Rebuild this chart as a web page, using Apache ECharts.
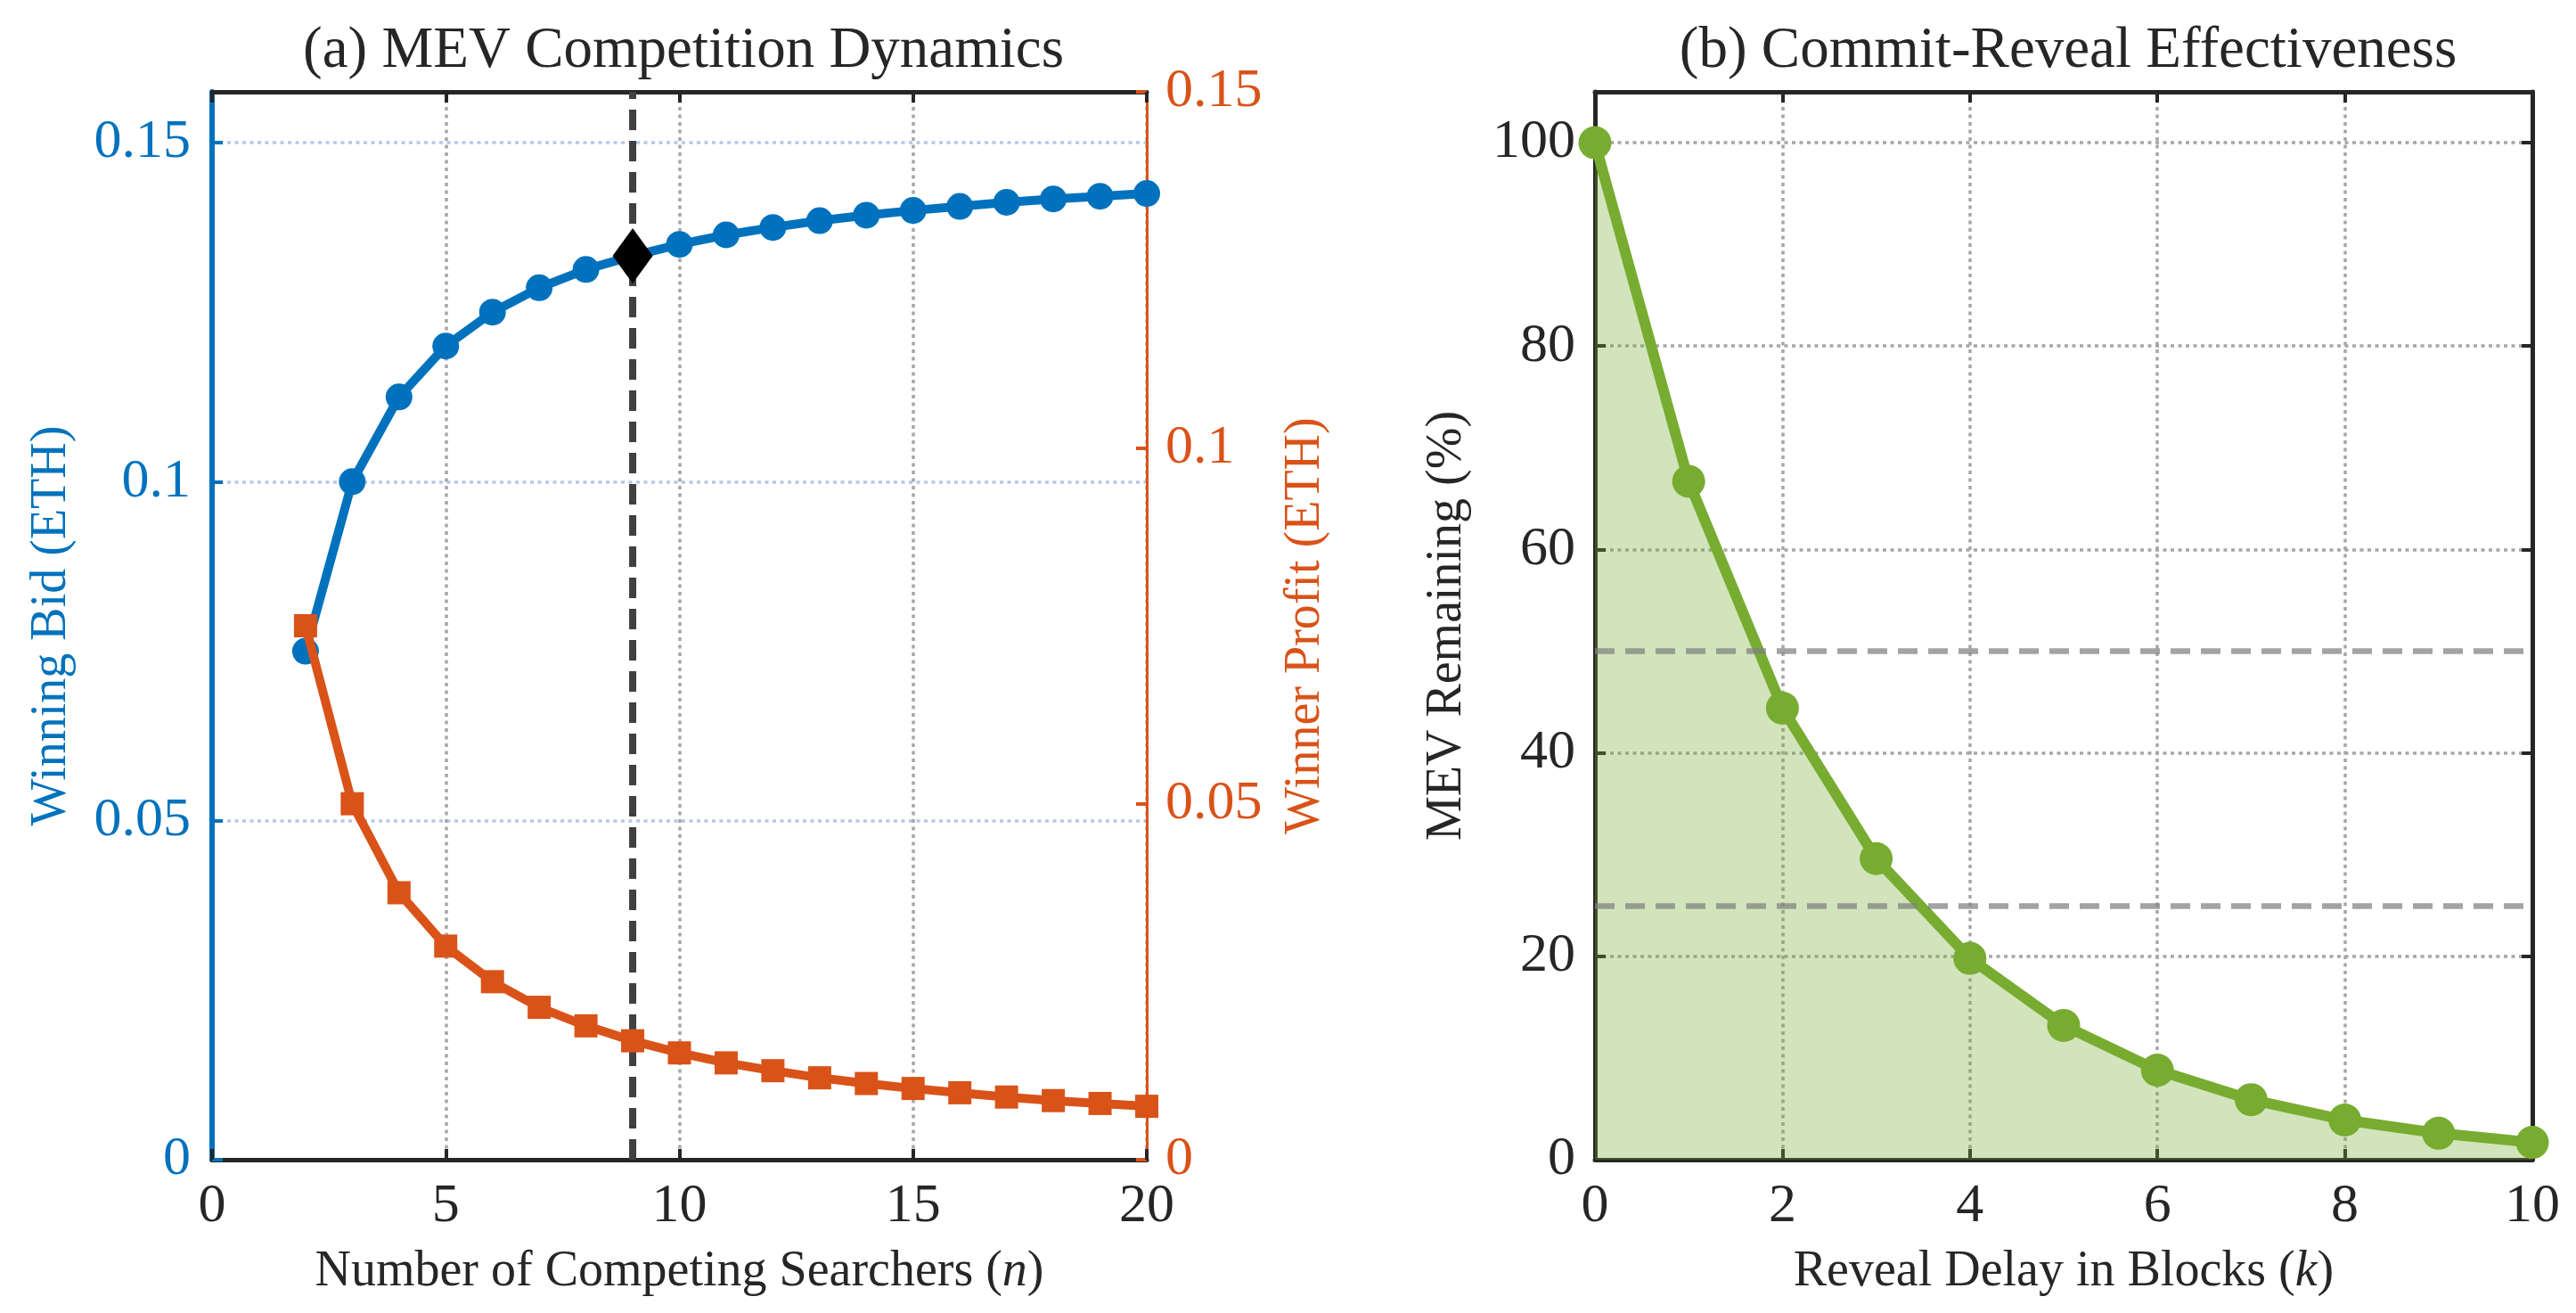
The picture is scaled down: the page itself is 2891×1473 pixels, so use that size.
<!DOCTYPE html>
<html>
<head>
<meta charset="utf-8">
<script src="https://cdn.jsdelivr.net/npm/echarts@6.0.0/dist/echarts.min.js"></script>
<style>
  html, body { margin: 0; padding: 0; background: #fff; }
  #chart { width: 2891px; height: 1473px; }
</style>
</head>
<body>
<div id="chart"></div>
<script>
// (a) auction: searchers vs winning bid / winner profit
var searchers = [2, 3, 4, 5, 6, 7, 8, 9, 10, 11, 12, 13, 14, 15, 16, 17, 18, 19, 20];
var winningBid = [0.075, 0.1, 0.1125, 0.12, 0.125, 0.1286, 0.1313, 0.1333, 0.135, 0.1364,
  0.1375, 0.1385, 0.1393, 0.14, 0.1406, 0.1412, 0.1417, 0.1421, 0.1425];
var winnerProfit = [0.075, 0.05, 0.0375, 0.03, 0.025, 0.0214, 0.0188, 0.0167, 0.015, 0.0136,
  0.0125, 0.0115, 0.0107, 0.01, 0.0094, 0.0088, 0.0083, 0.0079, 0.0075];
var optimalN = 9;
var optimalBid = 0.1333;

// (b) commit-reveal: delay vs remaining MEV
var delays = [0, 1, 2, 3, 4, 5, 6, 7, 8, 9, 10];
var mevRemaining = [100, 66.7, 44.4, 29.6, 19.8, 13.2, 8.8, 5.9, 3.9, 2.6, 1.7];
var thresholds = [50, 25];

var BLUE = '#0072BD', ORANGE = '#D95319', GREEN = '#77AC30';
var INK = '#262626', GRID_GRAY = '#a6a6a6', GRID_BLUE = '#b6c8e6';
var FONT = 'Liberation Serif';

function pairs(xs, ys) {
  return xs.map(function (x, i) { return [x, ys[i]]; });
}

function axisLine(color, width) {
  return { show: true, onZero: false, lineStyle: { color: color, width: width } };
}
function tickStyle(color) {
  return { show: true, inside: true, length: 12, lineStyle: { color: color, width: 4 } };
}
function labelStyle(color, margin) {
  return { color: color, fontFamily: FONT, fontSize: 62, margin: margin };
}
function nameStyle(color) {
  return {
    color: color, fontFamily: FONT, fontSize: 56,
    rich: { i: { fontFamily: FONT, fontSize: 56, fontStyle: 'italic', color: color } }
  };
}
var dotted = function (color) {
  return { show: true, lineStyle: { color: color, width: 3.5, type: [4, 4.5] } };
};

var chart = echarts.init(document.getElementById('chart'), null, { renderer: 'canvas' });

var option = {
  animation: false,
  backgroundColor: '#fff',
  title: [
    { text: '(a) MEV Competition Dynamics', left: 762, top: 20, textAlign: 'center',
      textStyle: { fontFamily: FONT, fontSize: 65, fontWeight: 'normal', color: INK } },
    { text: '(b) Commit-Reveal Effectiveness', left: 2316, top: 20, textAlign: 'center',
      textStyle: { fontFamily: FONT, fontSize: 65, fontWeight: 'normal', color: INK } }
  ],
  grid: [
    { left: 238, top: 103, width: 1049, height: 1198, outerBoundsMode: 'none' },
    { left: 1790, top: 103, width: 1052, height: 1198, outerBoundsMode: 'none' }
  ],
  xAxis: [
    { type: 'value', gridIndex: 0, position: 'bottom', min: 0, max: 20, interval: 5,
      name: 'Number of Competing Searchers ({i|n})', nameLocation: 'middle', nameGap: 98,
      nameTextStyle: nameStyle(INK),
      axisLine: axisLine(INK, 5), axisTick: tickStyle(INK), axisLabel: labelStyle(INK, 22),
      splitLine: dotted(GRID_GRAY) },
    { type: 'value', gridIndex: 0, position: 'top', min: 0, max: 20, interval: 5,
      axisLine: axisLine(INK, 5), axisTick: tickStyle(INK),
      axisLabel: { show: false }, splitLine: { show: false } },
    { type: 'value', gridIndex: 1, position: 'bottom', min: 0, max: 10, interval: 2,
      name: 'Reveal Delay in Blocks ({i|k})', nameLocation: 'middle', nameGap: 98,
      nameTextStyle: nameStyle(INK),
      axisLine: axisLine(INK, 5), axisTick: tickStyle(INK), axisLabel: labelStyle(INK, 22),
      splitLine: dotted(GRID_GRAY) },
    { type: 'value', gridIndex: 1, position: 'top', min: 0, max: 10, interval: 2,
      axisLine: axisLine(INK, 5), axisTick: tickStyle(INK),
      axisLabel: { show: false }, splitLine: { show: false } }
  ],
  yAxis: [
    { type: 'value', gridIndex: 0, position: 'left', min: 0, max: 0.1575, interval: 0.05,
      name: 'Winning Bid (ETH)', nameLocation: 'middle', nameGap: 152,
      nameTextStyle: nameStyle(BLUE),
      axisLine: axisLine(BLUE, 6), axisTick: tickStyle(BLUE),
      axisLabel: Object.assign(labelStyle(BLUE, 24), { showMaxLabel: false }),
      splitLine: dotted(GRID_BLUE) },
    { type: 'value', gridIndex: 0, position: 'right', min: 0, max: 0.15, interval: 0.05,
      name: 'Winner Profit (ETH)', nameLocation: 'middle', nameGap: 150,
      nameTextStyle: nameStyle(ORANGE),
      axisLine: axisLine(ORANGE, 3), axisTick: tickStyle(ORANGE),
      axisLabel: labelStyle(ORANGE, 21),
      splitLine: { show: false } },
    { type: 'value', gridIndex: 1, position: 'left', min: 0, max: 105, interval: 20,
      name: 'MEV Remaining (%)', nameLocation: 'middle', nameGap: 138,
      nameTextStyle: nameStyle(INK),
      axisLine: axisLine(INK, 5), axisTick: tickStyle(INK),
      axisLabel: Object.assign(labelStyle(INK, 22), { showMaxLabel: false }),
      splitLine: dotted(GRID_GRAY) },
    { type: 'value', gridIndex: 1, position: 'right', min: 0, max: 105, interval: 20,
      axisLine: axisLine(INK, 5), axisTick: tickStyle(INK),
      axisLabel: { show: false }, splitLine: { show: false } }
  ],
  series: [
    // vertical marker at the optimal number of searchers
    { name: 'optimum line', type: 'line', xAxisIndex: 0, yAxisIndex: 0, z: 1,
      data: [[optimalN, 0], [optimalN, 0.1575]], symbol: 'none', silent: true,
      lineStyle: { color: '#404040', width: 8, type: [23, 12] } },
    { name: 'Winning Bid', type: 'line', xAxisIndex: 0, yAxisIndex: 0, z: 2,
      data: pairs(searchers, winningBid),
      symbol: 'circle', symbolSize: 30,
      lineStyle: { color: BLUE, width: 10 },
      itemStyle: { color: BLUE, borderWidth: 0 } },
    { name: 'Winner Profit', type: 'line', xAxisIndex: 0, yAxisIndex: 1, z: 3,
      data: pairs(searchers, winnerProfit),
      symbol: 'rect', symbolSize: 26,
      lineStyle: { color: ORANGE, width: 10 },
      itemStyle: { color: ORANGE, borderWidth: 0 } },
    { name: 'Optimum', type: 'scatter', xAxisIndex: 0, yAxisIndex: 0, z: 4,
      data: [[optimalN, optimalBid]], symbol: 'diamond', symbolSize: [45, 62],
      itemStyle: { color: '#000', borderWidth: 0, opacity: 1 } },

    // (b) shaded area, then the curve
    { name: 'MEV area', type: 'line', xAxisIndex: 2, yAxisIndex: 2, z: 1,
      data: pairs(delays, mevRemaining), symbol: 'none',
      lineStyle: { width: 0 },
      areaStyle: { color: GREEN, opacity: 0.33 } },
    { name: 'MEV Remaining', type: 'line', xAxisIndex: 2, yAxisIndex: 2, z: 2,
      data: pairs(delays, mevRemaining),
      symbol: 'circle', symbolSize: 37,
      lineStyle: { color: GREEN, width: 12 },
      itemStyle: { color: GREEN, borderWidth: 0 },
      markLine: {
        silent: true, symbol: 'none', z: 5,
        label: { show: false },
        lineStyle: { color: 'rgba(128,128,128,0.72)', width: 6.5, type: [22, 12] },
        data: thresholds.map(function (t) { return { yAxis: t }; })
      } }
  ]
};

chart.setOption(option);
</script>
</body>
</html>
